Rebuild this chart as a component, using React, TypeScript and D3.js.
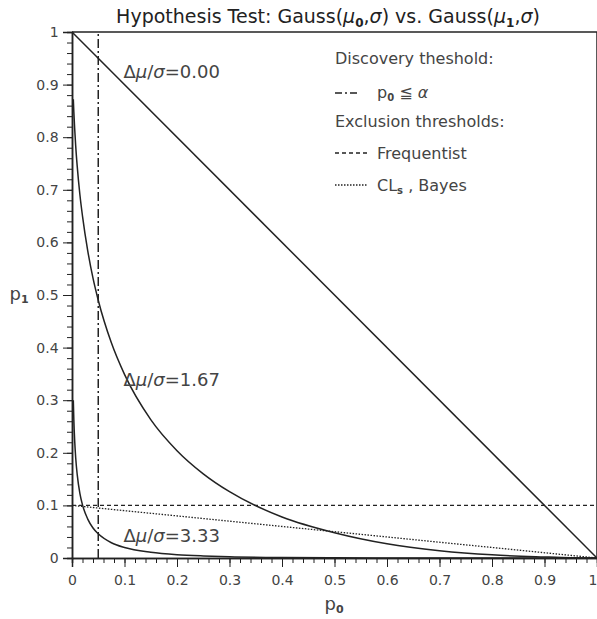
import React, { useEffect, useRef } from 'react';
import * as d3 from 'd3';

// p0 grid (read along the x axis) and p1 values
const P0_GRID = [0.0025, 0.0035, 0.005, 0.007, 0.01, 0.015, 0.02, 0.03, 0.04, 0.05, 0.075, 0.1, 0.15, 0.2, 0.25, 0.3, 0.4, 0.5, 0.6, 0.7, 0.8, 0.9, 0.95, 1];
const P1_D167 = [0.872, 0.848, 0.818, 0.784, 0.744, 0.691, 0.650, 0.584, 0.532, 0.490, 0.409, 0.349, 0.263, 0.204, 0.160, 0.126, 0.078, 0.048, 0.027, 0.014, 0.006, 0.002, 0.0005, 0];
const P1_D333 = [0.300, 0.263, 0.225, 0.191, 0.158, 0.123, 0.101, 0.074, 0.057, 0.046, 0.029, 0.020, 0.011, 0.0064, 0.004, 0.0025, 0.001, 0.0004, 0.0002, 0.0001, 0, 0, 0, 0];
const DIAG_P0 = [0, 1];
const DIAG_P1 = [1, 0];
const CLS_P0 = [0, 1];
const CLS_P1 = [0.1, 0];

const ALPHA = 0.05;      // discovery threshold
const EXCL = 0.1;        // frequentist exclusion

const X_TICKS = [0, 0.1, 0.2, 0.3, 0.4, 0.5, 0.6, 0.7, 0.8, 0.9, 1];
const Y_TICKS = [0, 0.1, 0.2, 0.3, 0.4, 0.5, 0.6, 0.7, 0.8, 0.9, 1];

const CURVE_LABELS = [
  { text: '0.00', p0: 0.098, p1: 0.912 },
  { text: '1.67', p0: 0.098, p1: 0.327 },
  { text: '3.33', p0: 0.098, p1: 0.030 },
];

const W = 597;
const H = 619;
const FONT = '"DejaVu Sans", sans-serif';
const INK = '#222';
const GREY = '#444';

export default function App() {
  const ref = useRef<SVGSVGElement>(null);

  useEffect(() => {
    const svg = d3.select(ref.current);
    svg.selectAll('*').remove();

    const margin = { top: 32, right: 0, bottom: 61, left: 72 };
    const x = d3.scaleLinear().domain([0, 1]).range([margin.left, W - margin.right]);
    const y = d3.scaleLinear().domain([0, 1]).range([H - margin.bottom, margin.top]);

    // minor ticks every 0.02
    const minor = d3.range(0, 51).map(i => i / 50);

    const g = svg.append('g');

    // axes (ticks outside)
    const xAxisMinor = d3.axisBottom(x).tickValues(minor).tickSize(5).tickFormat(() => '');
    const xAxis = d3.axisBottom(x).tickValues(X_TICKS).tickSize(9)
      .tickFormat(d => d3.format('~g')(d as number));
    const yAxisMinor = d3.axisLeft(y).tickValues(minor).tickSize(5).tickFormat(() => '');
    const yAxis = d3.axisLeft(y).tickValues(Y_TICKS).tickSize(9)
      .tickFormat(d => d3.format('~g')(d as number));

    const styleAxis = (sel: d3.Selection<SVGGElement, unknown, null, undefined>) => {
      sel.selectAll('path').attr('stroke', INK).attr('stroke-width', 1.5);
      sel.selectAll('line').attr('stroke', INK).attr('stroke-width', 1);
      sel.selectAll('text').attr('fill', GREY).attr('font-family', FONT).attr('font-size', 14);
    };

    const bottom = y(0);
    g.append('g').attr('transform', `translate(0,${bottom})`).call(xAxisMinor).call(styleAxis);
    const xg = g.append('g').attr('transform', `translate(0,${bottom})`).call(xAxis).call(styleAxis);
    xg.selectAll('text').attr('dy', '1.1em');
    xg.selectAll<SVGTextElement, number>('text').filter(d => d === 1).attr('text-anchor', 'end');
    g.append('g').attr('transform', `translate(${x(0)},0)`).call(yAxisMinor).call(styleAxis);
    g.append('g').attr('transform', `translate(${x(0)},0)`).call(yAxis).call(styleAxis)
      .selectAll('text').attr('dx', '-0.1em');

    // frame top and right
    g.append('line').attr('x1', x(0)).attr('x2', x(1)).attr('y1', y(1)).attr('y2', y(1))
      .attr('stroke', INK).attr('stroke-width', 1.5);
    g.append('line').attr('x1', x(1)).attr('x2', x(1)).attr('y1', y(1)).attr('y2', y(0))
      .attr('stroke', INK).attr('stroke-width', 1.5);

    // threshold lines
    g.append('line').attr('x1', x(ALPHA)).attr('x2', x(ALPHA)).attr('y1', y(0)).attr('y2', y(1))
      .attr('stroke', INK).attr('stroke-width', 1.5).attr('stroke-dasharray', '9,3,2,3');
    g.append('line').attr('x1', x(0)).attr('x2', x(1)).attr('y1', y(EXCL)).attr('y2', y(EXCL))
      .attr('stroke', INK).attr('stroke-width', 1.3).attr('stroke-dasharray', '4,3');
    const straight = d3.line<number>().x((d, i) => x(CLS_P0[i])).y(d => y(d));
    g.append('path').datum(CLS_P1).attr('d', straight).attr('fill', 'none')
      .attr('stroke', INK).attr('stroke-width', 1.3).attr('stroke-dasharray', '1.5,1.5');

    // curves
    const diag = d3.line<number>().x((d, i) => x(DIAG_P0[i])).y(d => y(d));
    g.append('path').datum(DIAG_P1).attr('d', diag).attr('fill', 'none')
      .attr('stroke', INK).attr('stroke-width', 1.5);
    const curve = d3.line<number>().x((d, i) => x(P0_GRID[i])).y(d => y(d)).curve(d3.curveMonotoneX);
    for (const series of [P1_D167, P1_D333]) {
      g.append('path').datum(series).attr('d', curve).attr('fill', 'none')
        .attr('stroke', INK).attr('stroke-width', 1.5);
    }

    // curve labels
    for (const l of CURVE_LABELS) {
      const t = g.append('text').attr('x', x(l.p0)).attr('y', y(l.p1))
        .attr('font-family', FONT).attr('font-size', 18).attr('fill', GREY);
      t.append('tspan').text('Δ');
      t.append('tspan').attr('font-style', 'italic').text('μ');
      t.append('tspan').text('/');
      t.append('tspan').attr('font-style', 'italic').text('σ');
      t.append('tspan').text('=' + l.text);
    }

    // title
    const title = svg.append('text').attr('x', 328).attr('y', 23).attr('text-anchor', 'middle')
      .attr('font-family', FONT).attr('font-size', 19).attr('fill', INK);
    title.append('tspan').text('Hypothesis Test: Gauss(');
    title.append('tspan').attr('font-style', 'italic').text('μ');
    title.append('tspan').attr('font-size', 12).attr('dy', 4).attr('font-weight', 'bold').text('0');
    title.append('tspan').attr('dy', -4).text(',');
    title.append('tspan').attr('font-style', 'italic').text('σ');
    title.append('tspan').text(') vs. Gauss(');
    title.append('tspan').attr('font-style', 'italic').text('μ');
    title.append('tspan').attr('font-size', 12).attr('dy', 4).attr('font-weight', 'bold').text('1');
    title.append('tspan').attr('dy', -4).text(',');
    title.append('tspan').attr('font-style', 'italic').text('σ');
    title.append('tspan').text(')');

    // axis titles
    const xt = svg.append('text').attr('x', 334).attr('y', 610).attr('text-anchor', 'middle')
      .attr('font-family', FONT).attr('font-size', 18).attr('fill', GREY);
    xt.append('tspan').text('p');
    xt.append('tspan').attr('font-size', 11).attr('dy', 3).attr('font-weight', 'bold').text('0');
    const yt = svg.append('text').attr('x', 19).attr('y', 300).attr('text-anchor', 'middle')
      .attr('font-family', FONT).attr('font-size', 18).attr('fill', GREY);
    yt.append('tspan').text('p');
    yt.append('tspan').attr('font-size', 11).attr('dy', 3).attr('font-weight', 'bold').text('1');

    // legend
    const lx = 335;
    const lg = svg.append('g').attr('font-family', FONT).attr('font-size', 16).attr('fill', GREY);
    lg.append('text').attr('x', lx).attr('y', 64).text('Discovery theshold:');
    lg.append('line').attr('x1', lx).attr('x2', lx + 22).attr('y1', 93).attr('y2', 93)
      .attr('stroke', INK).attr('stroke-width', 1.5).attr('stroke-dasharray', '7,3,2,3');
    const la = lg.append('text').attr('x', lx + 42).attr('y', 98);
    la.append('tspan').text('p');
    la.append('tspan').attr('font-size', 10).attr('dy', 3).attr('font-weight', 'bold').text('0');
    la.append('tspan').attr('dy', -3).text(' ≦ ');
    la.append('tspan').attr('font-style', 'italic').text('α');
    lg.append('text').attr('x', lx).attr('y', 127).text('Exclusion thresholds:');
    lg.append('line').attr('x1', lx).attr('x2', lx + 32).attr('y1', 153).attr('y2', 153)
      .attr('stroke', INK).attr('stroke-width', 1.3).attr('stroke-dasharray', '4,3');
    lg.append('text').attr('x', lx + 42).attr('y', 159).text('Frequentist');
    lg.append('line').attr('x1', lx).attr('x2', lx + 32).attr('y1', 185).attr('y2', 185)
      .attr('stroke', INK).attr('stroke-width', 1.3).attr('stroke-dasharray', '1.5,1.5');
    const lc = lg.append('text').attr('x', lx + 42).attr('y', 191);
    lc.append('tspan').text('CL');
    lc.append('tspan').attr('font-size', 10).attr('dy', 3).attr('font-weight', 'bold').text('s');
    lc.append('tspan').attr('dy', -3).text(' , Bayes');
  }, []);

  return (
    <svg ref={ref} width={W} height={H}
      style={{ position: 'absolute', left: 0, top: 0, background: '#fff' }} />
  );
}
